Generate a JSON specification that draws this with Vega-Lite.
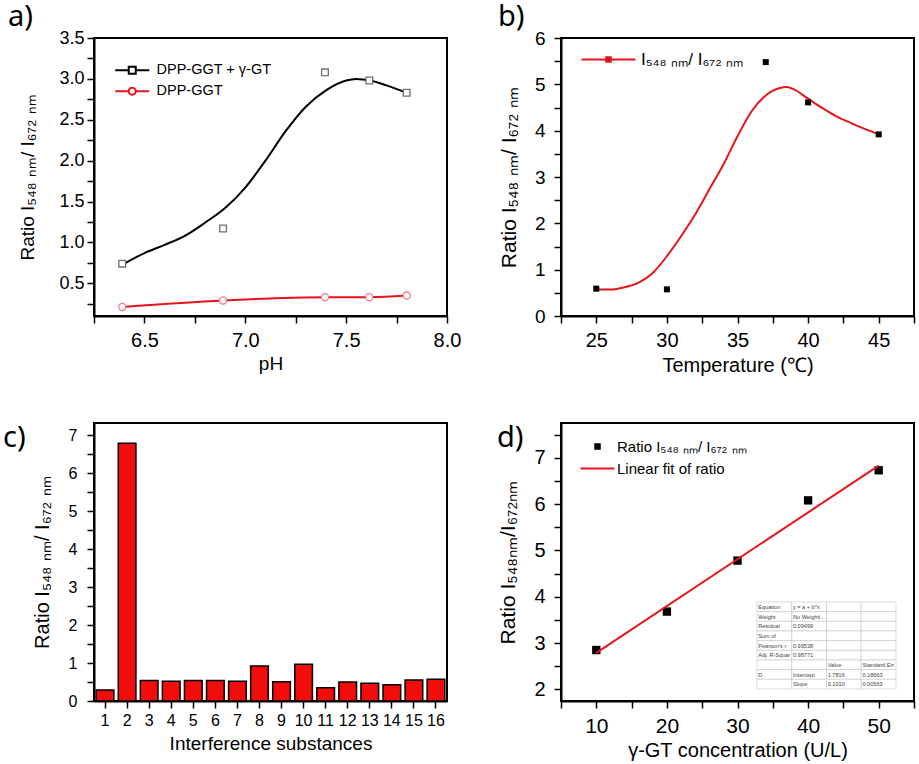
{
  "$schema": "https://vega.github.io/schema/vega-lite/v6.json",
  "background": "white",
  "padding": {"left": 2, "top": 2, "right": 0, "bottom": 0},
  "columns": 2,
  "bounds": "flush",
  "spacing": {"row": 107, "column": 114},
  "resolve": {"scale": {"color": "independent", "shape": "independent", "stroke": "independent"}},
  "config": {
    "font": "Liberation Sans",
    "view": {"stroke": "black", "strokeWidth": 2},
    "axis": {"domainColor": "black", "domainWidth": 2, "tickColor": "black", "tickWidth": 1.5, "tickSize": 7, "grid": false, "labelColor": "black", "titleColor": "black", "titleFontWeight": "normal", "labelOverlap": false, "labelFlush": false, "labelFont": "Liberation Sans", "titleFont": "Liberation Sans", "tickCount": 60},
    "legend": {"labelColor": "black", "labelFont": "Liberation Sans"},
    "title": {"color": "black", "fontWeight": "normal", "font": "Noto Sans"}
  },
  "datasets": {
    "phCurve": [
      {"pH": 6.4, "ratio": 0.74, "series": "DPP-GGT + γ-GT"},
      {"pH": 6.5, "ratio": 0.87, "series": "DPP-GGT + γ-GT"},
      {"pH": 6.6, "ratio": 0.97, "series": "DPP-GGT + γ-GT"},
      {"pH": 6.7, "ratio": 1.08, "series": "DPP-GGT + γ-GT"},
      {"pH": 6.8, "ratio": 1.24, "series": "DPP-GGT + γ-GT"},
      {"pH": 6.9, "ratio": 1.42, "series": "DPP-GGT + γ-GT"},
      {"pH": 7.0, "ratio": 1.67, "series": "DPP-GGT + γ-GT"},
      {"pH": 7.1, "ratio": 2.0, "series": "DPP-GGT + γ-GT"},
      {"pH": 7.2, "ratio": 2.36, "series": "DPP-GGT + γ-GT"},
      {"pH": 7.3, "ratio": 2.66, "series": "DPP-GGT + γ-GT"},
      {"pH": 7.4, "ratio": 2.86, "series": "DPP-GGT + γ-GT"},
      {"pH": 7.5, "ratio": 2.98, "series": "DPP-GGT + γ-GT"},
      {"pH": 7.55, "ratio": 3.0, "series": "DPP-GGT + γ-GT"},
      {"pH": 7.62, "ratio": 2.98, "series": "DPP-GGT + γ-GT"},
      {"pH": 7.7, "ratio": 2.92, "series": "DPP-GGT + γ-GT"},
      {"pH": 7.8, "ratio": 2.83, "series": "DPP-GGT + γ-GT"},
      {"pH": 6.39, "ratio": 0.21, "series": "DPP-GGT"},
      {"pH": 6.89, "ratio": 0.29, "series": "DPP-GGT"},
      {"pH": 7.395, "ratio": 0.33, "series": "DPP-GGT"},
      {"pH": 7.615, "ratio": 0.33, "series": "DPP-GGT"},
      {"pH": 7.8, "ratio": 0.35, "series": "DPP-GGT"}
    ],
    "phPoints": [
      {"pH": 6.39, "ratio": 0.74, "sample": "DPP-GGT + γ-GT"},
      {"pH": 6.89, "ratio": 1.17, "sample": "DPP-GGT + γ-GT"},
      {"pH": 7.395, "ratio": 3.08, "sample": "DPP-GGT + γ-GT"},
      {"pH": 7.615, "ratio": 2.98, "sample": "DPP-GGT + γ-GT"},
      {"pH": 7.8, "ratio": 2.83, "sample": "DPP-GGT + γ-GT"},
      {"pH": 6.39, "ratio": 0.21, "sample": "DPP-GGT"},
      {"pH": 6.89, "ratio": 0.29, "sample": "DPP-GGT"},
      {"pH": 7.395, "ratio": 0.33, "sample": "DPP-GGT"},
      {"pH": 7.615, "ratio": 0.33, "sample": "DPP-GGT"},
      {"pH": 7.8, "ratio": 0.35, "sample": "DPP-GGT"}
    ],
    "tempCurve": [
      {"t": 25, "ratio": 0.57, "series": "I₅₄₈ ₙₘ/ I₆₇₂ ₙₘ"},
      {"t": 26, "ratio": 0.57, "series": "I₅₄₈ ₙₘ/ I₆₇₂ ₙₘ"},
      {"t": 27, "ratio": 0.62, "series": "I₅₄₈ ₙₘ/ I₆₇₂ ₙₘ"},
      {"t": 28, "ratio": 0.72, "series": "I₅₄₈ ₙₘ/ I₆₇₂ ₙₘ"},
      {"t": 29, "ratio": 0.93, "series": "I₅₄₈ ₙₘ/ I₆₇₂ ₙₘ"},
      {"t": 30, "ratio": 1.29, "series": "I₅₄₈ ₙₘ/ I₆₇₂ ₙₘ"},
      {"t": 31, "ratio": 1.72, "series": "I₅₄₈ ₙₘ/ I₆₇₂ ₙₘ"},
      {"t": 32, "ratio": 2.19, "series": "I₅₄₈ ₙₘ/ I₆₇₂ ₙₘ"},
      {"t": 33, "ratio": 2.73, "series": "I₅₄₈ ₙₘ/ I₆₇₂ ₙₘ"},
      {"t": 34, "ratio": 3.27, "series": "I₅₄₈ ₙₘ/ I₆₇₂ ₙₘ"},
      {"t": 35, "ratio": 3.88, "series": "I₅₄₈ ₙₘ/ I₆₇₂ ₙₘ"},
      {"t": 36, "ratio": 4.42, "series": "I₅₄₈ ₙₘ/ I₆₇₂ ₙₘ"},
      {"t": 37, "ratio": 4.76, "series": "I₅₄₈ ₙₘ/ I₆₇₂ ₙₘ"},
      {"t": 38, "ratio": 4.92, "series": "I₅₄₈ ₙₘ/ I₆₇₂ ₙₘ"},
      {"t": 38.5, "ratio": 4.94, "series": "I₅₄₈ ₙₘ/ I₆₇₂ ₙₘ"},
      {"t": 39, "ratio": 4.89, "series": "I₅₄₈ ₙₘ/ I₆₇₂ ₙₘ"},
      {"t": 40, "ratio": 4.69, "series": "I₅₄₈ ₙₘ/ I₆₇₂ ₙₘ"},
      {"t": 41, "ratio": 4.49, "series": "I₅₄₈ ₙₘ/ I₆₇₂ ₙₘ"},
      {"t": 42, "ratio": 4.31, "series": "I₅₄₈ ₙₘ/ I₆₇₂ ₙₘ"},
      {"t": 43, "ratio": 4.17, "series": "I₅₄₈ ₙₘ/ I₆₇₂ ₙₘ"},
      {"t": 44, "ratio": 4.04, "series": "I₅₄₈ ₙₘ/ I₆₇₂ ₙₘ"},
      {"t": 45, "ratio": 3.92, "series": "I₅₄₈ ₙₘ/ I₆₇₂ ₙₘ"}
    ],
    "tempPoints": [
      {"t": 25, "ratio": 0.59},
      {"t": 30, "ratio": 0.575},
      {"t": 37, "ratio": 5.48},
      {"t": 40, "ratio": 4.61},
      {"t": 45, "ratio": 3.92}
    ],
    "interf": [
      {"substance": 1, "ratio": 0.29},
      {"substance": 2, "ratio": 6.79},
      {"substance": 3, "ratio": 0.54},
      {"substance": 4, "ratio": 0.52},
      {"substance": 5, "ratio": 0.54},
      {"substance": 6, "ratio": 0.54},
      {"substance": 7, "ratio": 0.52},
      {"substance": 8, "ratio": 0.92},
      {"substance": 9, "ratio": 0.51},
      {"substance": 10, "ratio": 0.97},
      {"substance": 11, "ratio": 0.35},
      {"substance": 12, "ratio": 0.5},
      {"substance": 13, "ratio": 0.47},
      {"substance": 14, "ratio": 0.43},
      {"substance": 15, "ratio": 0.55},
      {"substance": 16, "ratio": 0.57}
    ],
    "gtPoints": [
      {"conc": 10, "ratio": 2.85},
      {"conc": 20, "ratio": 3.68},
      {"conc": 30, "ratio": 4.78},
      {"conc": 40, "ratio": 6.08},
      {"conc": 50, "ratio": 6.73}
    ],
    "gtFit": [
      {"conc": 10, "ratio": 2.79, "series": "Linear fit of ratio"},
      {"conc": 50, "ratio": 6.83, "series": "Linear fit of ratio"}
    ],
    "fitTable": [
      {"row": 0, "col": 0, "text": "Equation"}, {"row": 0, "col": 1, "text": "y = a + b*x"}, {"row": 0, "col": 2, "text": ""}, {"row": 0, "col": 3, "text": ""},
      {"row": 1, "col": 0, "text": "Weight"}, {"row": 1, "col": 1, "text": "No Weighting"}, {"row": 1, "col": 2, "text": ""}, {"row": 1, "col": 3, "text": ""},
      {"row": 2, "col": 0, "text": "Residual"}, {"row": 2, "col": 1, "text": "0.09499"}, {"row": 2, "col": 2, "text": ""}, {"row": 2, "col": 3, "text": ""},
      {"row": 3, "col": 0, "text": "Sum of"}, {"row": 3, "col": 1, "text": ""}, {"row": 3, "col": 2, "text": ""}, {"row": 3, "col": 3, "text": ""},
      {"row": 4, "col": 0, "text": "Pearson's r"}, {"row": 4, "col": 1, "text": "0.99538"}, {"row": 4, "col": 2, "text": ""}, {"row": 4, "col": 3, "text": ""},
      {"row": 5, "col": 0, "text": "Adj. R-Squar"}, {"row": 5, "col": 1, "text": "0.98771"}, {"row": 5, "col": 2, "text": ""}, {"row": 5, "col": 3, "text": ""},
      {"row": 6, "col": 0, "text": ""}, {"row": 6, "col": 1, "text": ""}, {"row": 6, "col": 2, "text": "Value"}, {"row": 6, "col": 3, "text": "Standard Err"},
      {"row": 7, "col": 0, "text": "D"}, {"row": 7, "col": 1, "text": "Intercept"}, {"row": 7, "col": 2, "text": "1.7816"}, {"row": 7, "col": 3, "text": "0.18663"},
      {"row": 8, "col": 0, "text": ""}, {"row": 8, "col": 1, "text": "Slope"}, {"row": 8, "col": 2, "text": "0.1010"}, {"row": 8, "col": 3, "text": "0.00563"}
    ]
  },
  "concat": [
    {
      "width": 353,
      "height": 278,
      "title": {"text": "a)", "anchor": "start", "frame": "group", "dx": -86, "offset": -26, "baseline": "alphabetic", "fontSize": 29},
      "layer": [
        {
          "data": {"name": "phCurve"},
          "mark": {"type": "line", "interpolate": "monotone", "strokeWidth": 2},
          "encoding": {
            "x": {"field": "pH", "type": "quantitative", "scale": {"domain": [6.25, 8], "nice": false, "zero": false},
              "axis": {"values": [6.25, 6.5, 6.75, 7, 7.25, 7.5, 7.75, 8], "tickCount": 60, "labelExpr": "(datum.value * 2) % 1 == 0 ? format(datum.value, '.1f') : ''", "title": "pH", "labelFontSize": 20, "titleFontSize": 19, "labelPadding": 7, "titlePadding": 4}},
            "y": {"field": "ratio", "type": "quantitative", "scale": {"domain": [0.1, 3.5], "nice": false, "zero": false},
              "axis": {"values": [0.25, 0.5, 0.75, 1, 1.25, 1.5, 1.75, 2, 2.25, 2.5, 2.75, 3, 3.25, 3.5], "tickCount": 60, "labelExpr": "(datum.value * 2) % 1 == 0 ? format(datum.value, '.1f') : ''", "title": "Ratio I₅₄₈ ₙₘ/ I₆₇₂ ₙₘ", "labelFontSize": 18, "titleFontSize": 19, "labelPadding": 3, "titlePadding": 21}},
            "color": {"field": "series", "type": "nominal", "scale": {"domain": ["DPP-GGT + γ-GT", "DPP-GGT"], "range": ["#000000", "#e8141c"]},
              "legend": {"orient": "none", "legendX": 31, "legendY": 25, "title": null, "labelFontSize": 14.5, "symbolSize": 100, "labelOffset": 17, "rowPadding": 5, "padding": 0,
                "encode": {"symbols": {"update": {
                  "shape": {"signal": "datum.value == 'DPP-GGT' ? 'M-3.4,0H-0.7M0.7,0H3.4M0.7,0A0.7,0.7,0,1,1,-0.7,0A0.7,0.7,0,1,1,0.7,0Z' : 'M-3.4,0H-0.7M0.7,0H3.4M-0.7,-0.7H0.7V0.7H-0.7Z'"},
                  "stroke": {"signal": "datum.value == 'DPP-GGT' ? '#e8141c' : '#000000'"},
                  "fill": {"value": "white"},
                  "strokeWidth": {"value": 2},
                  "opacity": {"value": 1}}}}}}
          }
        },
        {
          "data": {"name": "phPoints"},
          "transform": [{"filter": "datum.sample == 'DPP-GGT + γ-GT'"}],
          "mark": {"type": "point", "shape": "square", "filled": true, "fill": "white", "stroke": "#707070", "size": 45, "strokeWidth": 1.3, "opacity": 1},
          "encoding": {
            "x": {"field": "pH", "type": "quantitative"},
            "y": {"field": "ratio", "type": "quantitative"}
          }
        },
        {
          "data": {"name": "phPoints"},
          "transform": [{"filter": "datum.sample == 'DPP-GGT'"}],
          "mark": {"type": "point", "shape": "circle", "filled": true, "fill": "white", "stroke": "#f07a8a", "size": 50, "strokeWidth": 1.3, "opacity": 1},
          "encoding": {
            "x": {"field": "pH", "type": "quantitative"},
            "y": {"field": "ratio", "type": "quantitative"}
          }
        }
      ]
    },
    {
      "width": 353,
      "height": 278,
      "title": {"text": "b)", "anchor": "start", "frame": "group", "dx": -63, "offset": -26, "baseline": "alphabetic", "fontSize": 29},
      "layer": [
        {
          "data": {"name": "tempCurve"},
          "mark": {"type": "line", "interpolate": "monotone", "strokeWidth": 2},
          "encoding": {
            "x": {"field": "t", "type": "quantitative", "scale": {"domain": [22.5, 47.5], "nice": false, "zero": false},
              "axis": {"values": [22.5, 25, 27.5, 30, 32.5, 35, 37.5, 40, 42.5, 45, 47.5], "tickCount": 60, "labelExpr": "datum.value % 5 == 0 ? format(datum.value, 'd') : ''", "title": "Temperature (℃)", "labelFontSize": 20, "titleFontSize": 20, "labelPadding": 7, "titlePadding": 5}},
            "y": {"field": "ratio", "type": "quantitative", "scale": {"domain": [0, 6], "nice": false},
              "axis": {"values": [0, 0.5, 1, 1.5, 2, 2.5, 3, 3.5, 4, 4.5, 5, 5.5, 6], "tickCount": 60, "labelExpr": "datum.value % 1 == 0 ? format(datum.value, 'd') : ''", "title": "Ratio I₅₄₈ ₙₘ/ I₆₇₂ ₙₘ", "labelFontSize": 19, "titleFontSize": 21, "labelPadding": 9, "titlePadding": 15}},
            "color": {"field": "series", "type": "nominal", "scale": {"range": ["#e8141c"]},
              "legend": {"orient": "none", "legendX": 39, "legendY": 13, "title": null, "labelFontSize": 17, "symbolSize": 100, "labelOffset": 24, "padding": 0,
                "encode": {"symbols": {"update": {
                  "shape": {"value": "M-5.4,0H5.4M-0.45,-0.45H0.45V0.45H-0.45Z"},
                  "stroke": {"value": "#e8141c"},
                  "fill": {"value": "black"},
                  "strokeWidth": {"value": 2},
                  "opacity": {"value": 1}}}}}}
          }
        },
        {
          "data": {"name": "tempPoints"},
          "mark": {"type": "point", "shape": "square", "filled": true, "color": "black", "size": 36, "opacity": 1},
          "encoding": {
            "x": {"field": "t", "type": "quantitative"},
            "y": {"field": "ratio", "type": "quantitative"}
          }
        }
      ]
    },
    {
      "width": 353,
      "height": 278,
      "title": {"text": "c)", "anchor": "start", "frame": "group", "dx": -91, "offset": 0, "dy": 53, "baseline": "alphabetic", "fontSize": 29},
      "data": {"name": "interf"},
      "mark": {"type": "bar", "fill": "#f20c0c", "stroke": "black", "strokeWidth": 1.5},
      "encoding": {
        "x": {"field": "substance", "type": "ordinal", "scale": {"paddingInner": 0.2, "paddingOuter": 0.1},
          "axis": {"labelAngle": 0, "labelFontSize": 16, "title": "Interference substances", "titleFontSize": 19, "labelPadding": 4, "titlePadding": 6}},
        "y": {"field": "ratio", "type": "quantitative", "scale": {"domain": [0, 7.32], "nice": false},
          "axis": {"values": [0, 0.5, 1, 1.5, 2, 2.5, 3, 3.5, 4, 4.5, 5, 5.5, 6, 6.5, 7], "tickCount": 60, "labelExpr": "datum.value % 1 == 0 ? format(datum.value, 'd') : ''", "title": "Ratio I₅₄₈ ₙₘ/ I₆₇₂ ₙₘ", "labelFontSize": 16, "titleFontSize": 20, "labelPadding": 10, "titlePadding": 16}}
      }
    },
    {
      "width": 353,
      "height": 278,
      "title": {"text": "d)", "anchor": "start", "frame": "group", "dx": -64, "offset": 0, "dy": 53, "baseline": "alphabetic", "fontSize": 29},
      "layer": [
        {
          "layer": [
            {
              "data": {"name": "gtPoints"},
              "mark": {"type": "point", "shape": "square", "filled": true, "color": "black", "size": 70, "opacity": 1},
              "encoding": {
                "x": {"field": "conc", "type": "quantitative", "scale": {"domain": [5, 55], "nice": false, "zero": false},
                  "axis": {"values": [5, 10, 15, 20, 25, 30, 35, 40, 45, 50, 55], "tickCount": 60, "labelExpr": "datum.value % 10 == 0 ? format(datum.value, 'd') : ''", "title": "γ-GT concentration (U/L)", "labelFontSize": 21, "titleFontSize": 20, "labelPadding": 7, "titlePadding": 4}},
                "y": {"field": "ratio", "type": "quantitative", "scale": {"domain": [1.75, 7.75], "nice": false, "zero": false},
                  "axis": {"values": [2, 2.5, 3, 3.5, 4, 4.5, 5, 5.5, 6, 6.5, 7, 7.5], "tickCount": 60, "labelExpr": "datum.value % 1 == 0 ? format(datum.value, 'd') : ''", "title": "Ratio I₅₄₈ₙₘ/I₆₇₂ₙₘ", "labelFontSize": 20, "titleFontSize": 21, "labelPadding": 9, "titlePadding": 15}}
              }
            },
            {
              "data": {"name": "gtFit"},
              "mark": {"type": "line", "strokeWidth": 2},
              "encoding": {
                "x": {"field": "conc", "type": "quantitative"},
                "y": {"field": "ratio", "type": "quantitative"},
                "color": {"field": "series", "type": "nominal", "scale": {"domain": ["Ratio I₅₄₈ ₙₘ/ I₆₇₂ ₙₘ", "Linear fit of ratio"], "range": ["#000000", "#e8141c"]},
                  "legend": {"orient": "none", "legendX": 29, "legendY": 16, "title": null, "labelFontSize": 15, "symbolSize": 100, "labelOffset": 12, "rowPadding": 6, "padding": 0,
                    "encode": {"symbols": {"update": {
                      "shape": {"signal": "datum.value == 'Linear fit of ratio' ? 'M-3.4,0H3.4' : 'M-0.45,-0.45H0.45V0.45H-0.45Z'"},
                      "stroke": {"signal": "datum.value == 'Linear fit of ratio' ? '#e8141c' : '#000000'"},
                      "fill": {"signal": "datum.value == 'Linear fit of ratio' ? 'transparent' : '#000000'"},
                      "strokeWidth": {"value": 2},
                      "opacity": {"value": 1}}}}}}
              }
            }
          ]
        },
        {
          "data": {"name": "fitTable"},
          "layer": [
            {
              "mark": {"type": "rect", "fill": "white", "stroke": "#c4c4c4", "strokeWidth": 0.6},
              "encoding": {
                "x": {"field": "col", "type": "ordinal", "scale": {"range": [196, 335], "paddingInner": 0, "paddingOuter": 0}, "axis": null},
                "y": {"field": "row", "type": "ordinal", "scale": {"range": [179, 266], "paddingInner": 0, "paddingOuter": 0}, "axis": null}
              }
            },
            {
              "transform": [{"filter": "datum.text != ''"}],
              "mark": {"type": "text", "align": "left", "dx": 1.2, "fontSize": 5.6, "limit": 33, "color": "#444444", "font": "Liberation Sans"},
              "encoding": {
                "x": {"field": "col", "type": "ordinal", "bandPosition": 0, "axis": null},
                "y": {"field": "row", "type": "ordinal", "axis": null},
                "text": {"field": "text", "type": "nominal"}
              }
            }
          ]
        }
      ],
      "resolve": {"scale": {"x": "independent", "y": "independent"}}
    }
  ]
}
